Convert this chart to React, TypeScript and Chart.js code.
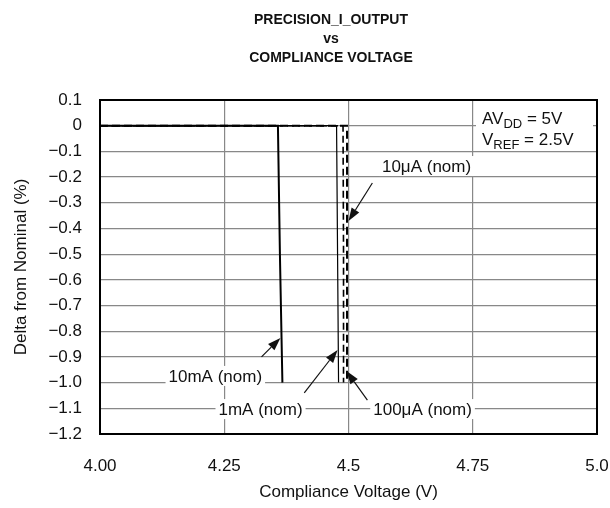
import React, { useEffect, useRef } from "react";
import { Chart, registerables } from "chart.js";
Chart.register(...registerables);

const FONT = "'Liberation Sans', Arial, Helvetica, sans-serif";

const titleLines = ["PRECISION_I_OUTPUT", "vs", "COMPLIANCE VOLTAGE"];
const xAxisTitle = "Compliance Voltage (V)";
const yAxisTitle = "Delta from Nominal (%)";

const xTickValues = [4.0, 4.25, 4.5, 4.75, 5.0];
const xTickLabels = ["4.00", "4.25", "4.5", "4.75", "5.0"];
const yTickValues = [0.1, 0, -0.1, -0.2, -0.3, -0.4, -0.5, -0.6, -0.7, -0.8, -0.9, -1.0, -1.1, -1.2];
const yTickLabels = ["0.1", "0", "−0.1", "−0.2", "−0.3", "−0.4", "−0.5", "−0.6", "−0.7", "−0.8", "−0.9", "−1.0", "−1.1", "−1.2"];

// series (x = compliance voltage, y = delta %)
const x10mA = [4.0, 4.358, 4.362, 4.367];
const y10mA = [0, 0, -0.5, -1.0];
const x1mA = [4.0, 4.476, 4.478, 4.48];
const y1mA = [0, 0, -0.5, -1.0];
const x100uA = [4.0, 4.489, 4.49, 4.49];
const y100uA = [0, 0, -0.5, -1.0];
const x10uA = [4.0, 4.497, 4.497, 4.497];
const y10uA = [0, 0, -0.5, -1.0];

// annotations (data coordinates)
const labelTexts = ["10μA (nom)", "10mA (nom)", "1mA (nom)", "100μA (nom)"];
const labelX = [4.657, 4.232, 4.323, 4.649];
const labelY = [-0.157, -0.974, -1.103, -1.103];
const arrowTailX = [4.548, 4.325, 4.411, 4.538];
const arrowTailY = [-0.223, -0.9, -1.04, -1.068];
const arrowTipX = [4.5, 4.363, 4.478, 4.496];
const arrowTipY = [-0.371, -0.826, -0.873, -0.955];

const toPts = (xs: number[], ys: number[]) => xs.map((x, i) => ({ x, y: ys[i] }));

const decorPlugin = {
  id: "decor",
  afterDatasetsDraw(chart: any) {
    const { ctx, chartArea, scales } = chart;
    const xs = scales.x;
    const ys = scales.y;
    ctx.save();
    // annotation labels with white backgrounds
    ctx.font = `17px ${FONT}`;
    ctx.textBaseline = "middle";
    ctx.textAlign = "center";
    labelTexts.forEach((t, i) => {
      const px = xs.getPixelForValue(labelX[i]);
      const py = ys.getPixelForValue(labelY[i]);
      const w = ctx.measureText(t).width;
      ctx.fillStyle = "#fff";
      ctx.fillRect(px - w / 2 - 3, py - 10, w + 6, 20);
      ctx.fillStyle = "#111";
      ctx.fillText(t, px, py + 1);
    });
    // arrows
    ctx.strokeStyle = "#111";
    ctx.fillStyle = "#111";
    ctx.lineWidth = 1.2;
    for (let i = 0; i < arrowTailX.length; i++) {
      const x1 = xs.getPixelForValue(arrowTailX[i]);
      const y1 = ys.getPixelForValue(arrowTailY[i]);
      const x2 = xs.getPixelForValue(arrowTipX[i]);
      const y2 = ys.getPixelForValue(arrowTipY[i]);
      const ang = Math.atan2(y2 - y1, x2 - x1);
      const hl = 13, hw = 4.5;
      const bx = x2 - hl * Math.cos(ang);
      const by = y2 - hl * Math.sin(ang);
      ctx.beginPath();
      ctx.moveTo(x1, y1);
      ctx.lineTo(bx, by);
      ctx.stroke();
      ctx.beginPath();
      ctx.moveTo(x2, y2);
      ctx.lineTo(bx + hw * Math.sin(ang), by - hw * Math.cos(ang));
      ctx.lineTo(bx - hw * Math.sin(ang), by + hw * Math.cos(ang));
      ctx.closePath();
      ctx.fill();
    }
    // condition box top-right
    const bx0 = chartArea.right - 121;
    const by0 = chartArea.top + 4;
    ctx.fillStyle = "#fff";
    ctx.fillRect(bx0, by0, 117, 46);
    ctx.fillStyle = "#111";
    ctx.textAlign = "left";
    ctx.textBaseline = "alphabetic";
    const drawSub = (parts: [string, boolean][], x: number, y: number) => {
      let cx = x;
      parts.forEach(([s, sub]) => {
        ctx.font = sub ? `13px ${FONT}` : `17px ${FONT}`;
        ctx.fillText(s, cx, sub ? y + 4 : y);
        cx += ctx.measureText(s).width;
      });
    };
    drawSub([["AV", false], ["DD", true], [" = 5V", false]], bx0 + 6, by0 + 20);
    drawSub([["V", false], ["REF", true], [" = 2.5V", false]], bx0 + 6, by0 + 41);
    // plot border
    ctx.strokeStyle = "#000";
    ctx.lineWidth = 2;
    ctx.strokeRect(chartArea.left, chartArea.top, chartArea.right - chartArea.left, chartArea.bottom - chartArea.top);
    // title
    ctx.font = `bold 14px ${FONT}`;
    ctx.textAlign = "center";
    ctx.textBaseline = "middle";
    ctx.fillStyle = "#111";
    titleLines.forEach((t, i) => ctx.fillText(t, 331, 20 + i * 19));
    ctx.restore();
  },
};

export default function App() {
  const ref = useRef<HTMLCanvasElement | null>(null);
  useEffect(() => {
    if (!ref.current) return;
    const common = { pointRadius: 0, tension: 0, fill: false, borderColor: "#000" };
    const chart = new Chart(ref.current, {
      type: "line",
      data: {
        datasets: [
          { ...common, label: "10mA", data: toPts(x10mA, y10mA), borderWidth: 2 },
          { ...common, label: "1mA", data: toPts(x1mA, y1mA), borderWidth: 1.2 },
          { ...common, label: "100uA", data: toPts(x100uA, y100uA), borderWidth: 1.6, borderDash: [7, 4] },
          { ...common, label: "10uA", data: toPts(x10uA, y10uA), borderWidth: 2, borderDash: [8, 4] },
        ],
      },
      options: {
        animation: false,
        responsive: false,
        devicePixelRatio: 1,
        layout: { padding: { top: 100, right: 13, left: 0, bottom: 0 } },
        plugins: { legend: { display: false }, tooltip: { enabled: false }, title: { display: false } },
        scales: {
          x: {
            type: "linear",
            min: 4.0,
            max: 5.0,
            afterBuildTicks: (s: any) => { s.ticks = xTickValues.map((v) => ({ value: v })); },
            afterFit: (s: any) => { s.height = 74; s.paddingLeft = 0; s.paddingRight = 0; },
            grid: { color: "#888", lineWidth: 1.2, drawTicks: false },
            border: { display: false },
            ticks: {
              padding: 22,
              color: "#111",
              font: { family: FONT, size: 17 },
              maxRotation: 0,
              autoSkip: false,
              callback: (v: any) => {
                const i = xTickValues.findIndex((t) => Math.abs(t - v) < 1e-6);
                return i >= 0 ? xTickLabels[i] : "";
              },
            },
            title: { display: true, text: xAxisTitle, color: "#111", font: { family: FONT, size: 17 }, padding: { top: 0, bottom: 5 } },
          },
          y: {
            type: "linear",
            min: -1.2,
            max: 0.1,
            afterBuildTicks: (s: any) => { s.ticks = yTickValues.map((v) => ({ value: v })); },
            afterFit: (s: any) => { s.width = 100; s.paddingTop = 0; s.paddingBottom = 0; },
            grid: { color: "#888", lineWidth: 1.2, drawTicks: false },
            border: { display: false },
            ticks: {
              padding: 18,
              color: "#111",
              font: { family: FONT, size: 17 },
              autoSkip: false,
              callback: (v: any) => {
                const i = yTickValues.findIndex((t) => Math.abs(t - v) < 1e-6);
                return i >= 0 ? yTickLabels[i] : "";
              },
            },
            title: { display: true, text: yAxisTitle, color: "#111", font: { family: FONT, size: 17 }, padding: { top: 11, bottom: 0 } },
          },
        },
      },
      plugins: [decorPlugin],
    } as any);
    return () => chart.destroy();
  }, []);
  return (
    <div style={{ position: "absolute", left: 0, top: 0, width: 610, height: 508, background: "#fff" }}>
      <canvas ref={ref} width={610} height={508} style={{ display: "block" }} />
    </div>
  );
}
